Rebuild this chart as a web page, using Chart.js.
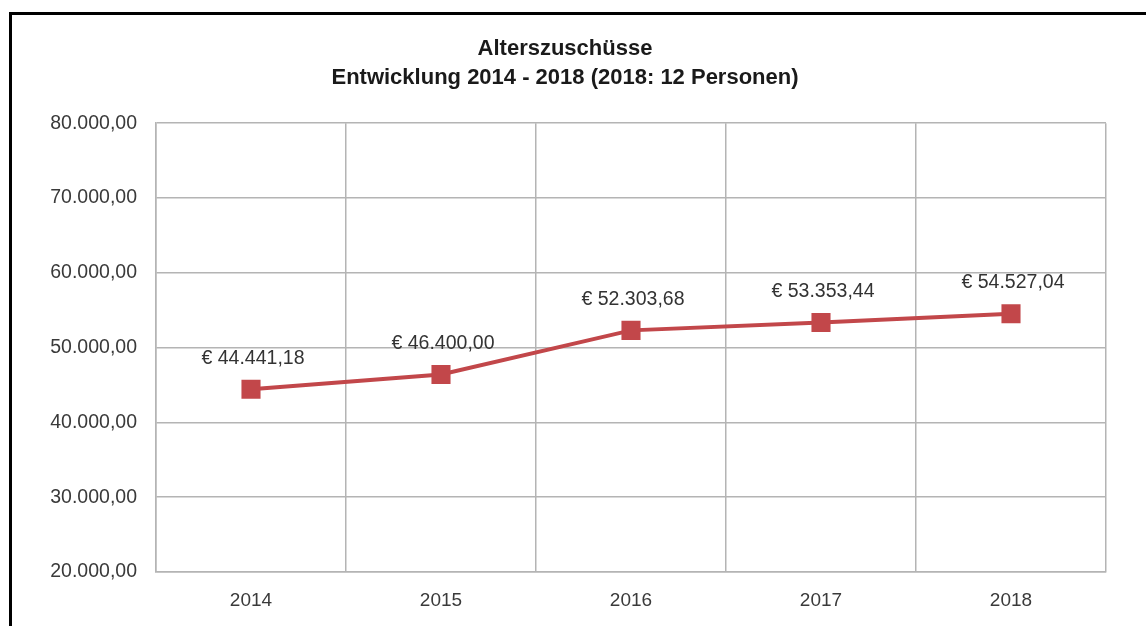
<!DOCTYPE html>
<html>
<head>
<meta charset="utf-8">
<script src="https://cdn.jsdelivr.net/npm/chart.js@4/dist/chart.umd.min.js"></script>
<style>
  html, body { margin: 0; padding: 0; background: #fff; overflow: hidden; }
  #wrap { position: relative; width: 1146px; height: 626px; }
  #frame {
    position: absolute; left: 9px; top: 12px; width: 1200px; height: 700px;
    border-top: 3px solid #000; border-left: 3px solid #000; pointer-events: none;
  }
</style>
</head>
<body>
<div id="wrap">
  <canvas id="chart" width="1146" height="626"></canvas>
  <div id="frame"></div>
</div>
<script>
const years = ['2014', '2015', '2016', '2017', '2018'];
const amounts = [44441.18, 46400.00, 52303.68, 53353.44, 54527.04];
const titleLines = ['Alterszuschüsse', 'Entwicklung 2014 - 2018 (2018: 12 Personen)'];
const yMin = 20000, yMax = 80000, yStep = 10000;

const fmt = v => v.toLocaleString('de-DE', {minimumFractionDigits: 2, maximumFractionDigits: 2});
const fontFamily = '"Liberation Sans", Arial, sans-serif';

// simple data labels above each point
const valueLabels = {
    id: 'valueLabels',
    afterDatasetsDraw(chart) {
        const ctx = chart.ctx;
        const meta = chart.getDatasetMeta(0);
        ctx.save();
        ctx.font = '19.5px ' + fontFamily;
        ctx.fillStyle = '#333';
        ctx.textAlign = 'center';
        ctx.textBaseline = 'middle';
        meta.data.forEach((pt, i) => {
            ctx.fillText('€ ' + fmt(amounts[i]), pt.x + 2, pt.y - 31);
        });
        ctx.restore();
    }
};

new Chart(document.getElementById('chart'), {
    type: 'line',
    data: {
        labels: years,
        datasets: [{
            data: amounts,
            borderColor: '#c2474a',
            backgroundColor: '#c2474a',
            borderWidth: 4,
            pointStyle: 'rect',
            pointRadius: 13.5,
            pointBorderWidth: 0,
            tension: 0
        }]
    },
    options: {
        responsive: false,
        animation: false,
        layout: {padding: {left: 24, right: 40, top: 0, bottom: 0}},
        plugins: {
            legend: {display: false},
            tooltip: {enabled: false},
            title: {
                display: true,
                text: titleLines,
                color: '#1a1a1a',
                font: {family: fontFamily, size: 22, weight: 'bold', lineHeight: 1.3},
                padding: {top: 35, bottom: 31}
            }
        },
        scales: {
            x: {
                offset: true,
                grid: {offset: true, color: '#b4b4b4', lineWidth: 1.5, drawTicks: false},
                border: {color: '#b4b4b4', width: 1.5},
                ticks: {color: '#3a3a3a', padding: 17, font: {family: fontFamily, size: 19}},
                afterFit(scale) { scale.height = 54; }
            },
            y: {
                min: yMin,
                max: yMax,
                grid: {color: '#b4b4b4', lineWidth: 1.5, drawTicks: false},
                border: {color: '#b4b4b4', width: 1.5},
                ticks: {
                    stepSize: yStep,
                    color: '#3a3a3a',
                    padding: 19,
                    font: {family: fontFamily, size: 19.5},
                    callback: v => fmt(v)
                },
                afterFit(scale) { scale.width = 132; }
            }
        }
    },
    plugins: [valueLabels]
});
</script>
</body>
</html>
